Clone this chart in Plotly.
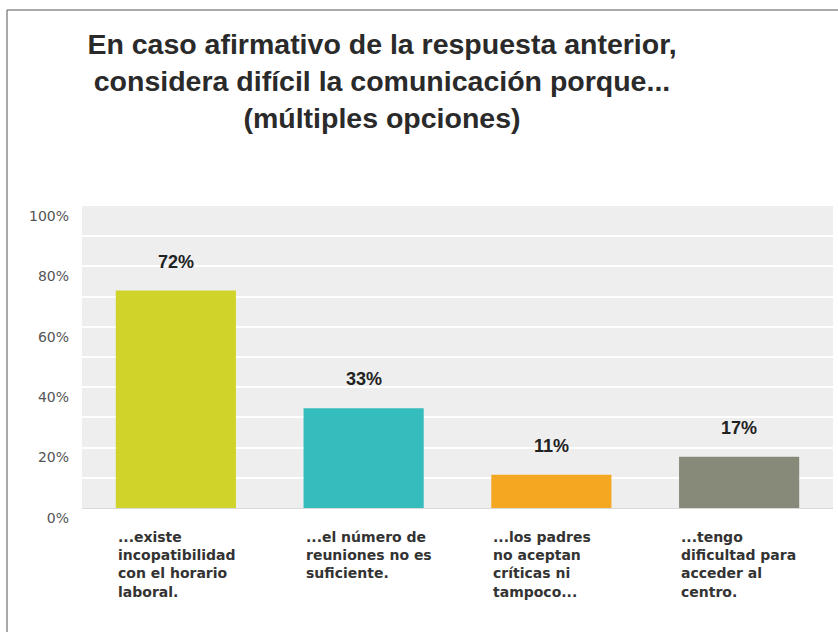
import plotly.graph_objects as go

categories = ["c1", "c2", "c3", "c4"]
category_labels = [
    "...existe<br>incopatibilidad<br>con el horario<br>laboral.",
    "...el número de<br>reuniones no es<br>suficiente.",
    "...los padres<br>no aceptan<br>críticas ni<br>tampoco...",
    "...tengo<br>dificultad para<br>acceder al<br>centro.",
]
values = [72, 33, 11, 17]
colors = ["#d0d42a", "#35bdbe", "#f4a822", "#878979"]
y_ticks = [0, 20, 40, 60, 80, 100]
y_tick_labels = ["0%", "20%", "40%", "60%", "80%", "100%"]
title_text = ("En caso afirmativo de la respuesta anterior,<br>"
              "considera difícil la comunicación porque...<br>"
              "(múltiples opciones)")

W, H = 838, 632
ML, MR, MT, MB = 82, 5, 206, 124

fig = go.Figure()
fig.add_trace(go.Bar(
    x=categories, y=values, marker=dict(color=colors, line=dict(width=0)),
    width=0.64, hoverinfo="skip",
))

for c, v in zip(categories, values):
    fig.add_annotation(
        x=c, y=v, xref="x", yref="y", text=f"<b>{v}%</b>", showarrow=False,
        yshift=29, font=dict(family="Liberation Sans, Arial", size=18, color="#222"),
    )

for c, lab in zip(categories, category_labels):
    fig.add_annotation(
        x=c, y=0, xref="x", yref="y", text=lab, showarrow=False,
        xanchor="left", yanchor="top", align="left", xshift=-60, yshift=-19,
        font=dict(family="DejaVu Sans", size=14, color="#333", weight="bold"),
    )

# frame lines (top and left)
fig.add_shape(type="line", xref="paper", yref="paper",
              xsizemode="pixel", ysizemode="pixel", xanchor=0, yanchor=1,
              x0=-75, x1=W, y0=196, y1=196, line=dict(color="#555", width=1))
fig.add_shape(type="line", xref="paper", yref="paper",
              xsizemode="pixel", ysizemode="pixel", xanchor=0, yanchor=1,
              x0=-75, x1=-75, y0=196, y1=-H, line=dict(color="#555", width=1))

fig.update_layout(
    width=W, height=H,
    margin=dict(l=ML, r=MR, t=MT, b=MB, pad=0),
    paper_bgcolor="white", plot_bgcolor="#eeeeee",
    showlegend=False, bargap=0.36,
    title=dict(text=title_text, x=382 / W, xanchor="center", xref="container",
               y=1 - 54 / H, yanchor="middle", yref="container",
               font=dict(family="Liberation Sans, Arial", size=28.5, color="#2a2a2a", weight="bold")),
    xaxis=dict(showticklabels=False, showgrid=False, zeroline=False,
               showline=True, linecolor="#d8d8d8", linewidth=1, fixedrange=True),
    yaxis=dict(range=[0, 100], tickvals=y_ticks, ticktext=y_tick_labels,
               tickfont=dict(family="DejaVu Sans", size=14, color="#555"),
               ticklabelposition="outside bottom", ticklabelstandoff=12,
               showgrid=True, gridcolor="white", gridwidth=1.5,
               minor=dict(dtick=10, showgrid=True, gridcolor="white", gridwidth=1.5),
               zeroline=False, fixedrange=True),
)

fig.write_html("out.html", config={"displayModeBar": False},
               post_script="document.body.style.margin='0';document.body.style.overflow='hidden';")
